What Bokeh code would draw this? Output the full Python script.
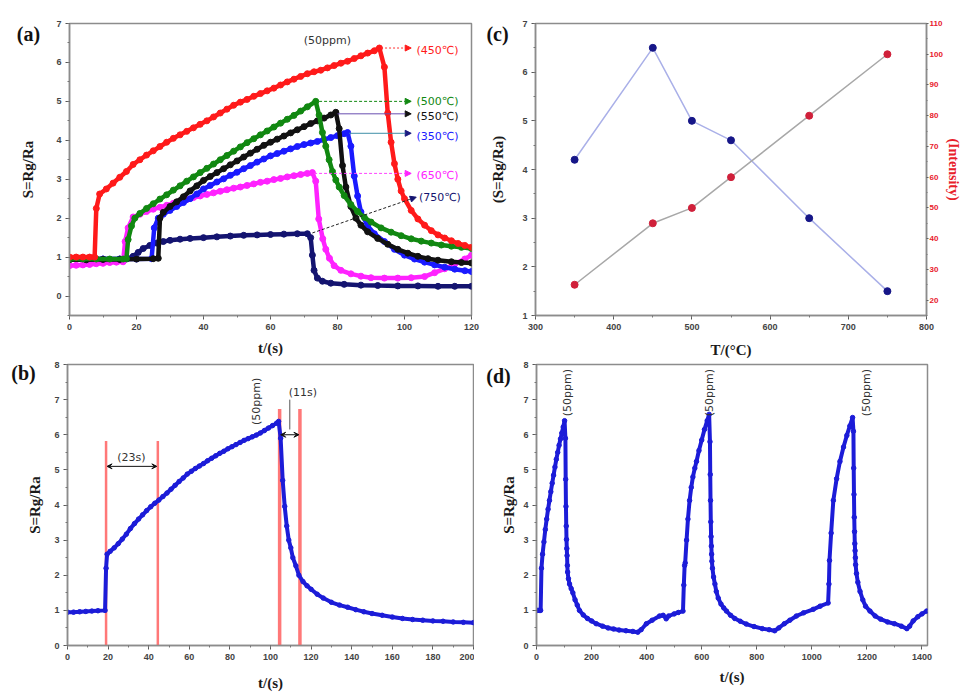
import math
from bokeh.plotting import figure
from bokeh.models import (Range1d, LinearAxis, SingleIntervalTicker, Label, Arrow,
                          NormalHead, VeeHead)
from bokeh.layouts import column, row
from bokeh.embed import file_html
from bokeh.resources import INLINE

# ---------------- data: panel (a) (t, S) pairs ----------------
a_450 = [(0,1.0),(2,1.0),(4,1.0),(6,1.0),(7.5,1.0),(8,2.25),(9,2.62),(11,2.75),(13,2.9),(15,3.05),
         (17,3.2),(19,3.38),(21,3.5),(23,3.62),(25,3.73),(27,3.84),(29,3.95),(31,4.05),(33,4.14),
         (35,4.23),(37,4.32),(39,4.41),(41,4.5),(43,4.6),(45,4.7),(47,4.8),(49,4.9),(51,4.98),
         (53,5.05),(55,5.13),(57,5.2),(59,5.27),(61,5.34),(63,5.42),(65,5.5),(67,5.57),(69,5.64),
         (71,5.71),(73,5.76),(75,5.8),(77,5.86),(79,5.92),(81,5.98),(83,6.03),(85,6.1),(87,6.17),
         (89,6.24),(91,6.3),(92.5,6.37),(94,5.88),(95,4.7),(96,3.95),(97,3.4),(98,3.0),(99,2.7),
         (100,2.5),(102,2.2),(104,1.98),(106,1.82),(108,1.68),(110,1.57),(112,1.49),(114,1.42),
         (116,1.35),(118,1.3),(120,1.25)]
a_500 = [(0,0.95),(4,0.95),(8,0.95),(12,0.95),(16,0.95),(17,0.96),(17.5,1.45),(18.5,1.8),(19.5,2.0),
         (21,2.12),(23,2.25),(25,2.37),(27,2.49),(29,2.6),(31,2.72),(33,2.83),(35,2.95),(37,3.06),
         (39,3.17),(41,3.28),(43,3.39),(45,3.5),(47,3.61),(49,3.72),(51,3.83),(53,3.94),(55,4.04),
         (57,4.14),(59,4.24),(61,4.34),(63,4.44),(65,4.54),(67,4.64),(69,4.75),(71,4.86),(73.5,5.0),
         (74.5,4.65),(75.5,4.2),(76.5,3.85),(77.5,3.5),(78.5,3.2),(79.5,2.98),(80.5,2.8),(82,2.58),
         (84,2.35),(86,2.17),(88,2.02),(90,1.9),(93,1.75),(96,1.64),(99,1.55),(102,1.47),(105,1.41),
         (108,1.36),(111,1.31),(114,1.28),(117,1.25),(120,1.22)]
a_550 = [(0,0.93),(5,0.93),(10,0.94),(15,0.94),(20,0.95),(25,0.96),(26.5,0.97),(27,2.0),(28,2.15),
         (30,2.3),(32,2.42),(34,2.55),(36,2.7),(38,2.83),(40,2.97),(42,3.07),(44,3.17),(46,3.27),
         (48,3.37),(50,3.47),(52,3.57),(54,3.67),(56,3.77),(58,3.87),(60,3.95),(62,4.03),(64,4.11),
         (66,4.19),(68,4.27),(70,4.35),(72,4.43),(74,4.5),(76,4.57),(78,4.65),(79.5,4.72),(80.5,4.3),
         (81.5,3.35),(82.5,2.8),(84,2.3),(85.5,2.0),(87,1.82),(89,1.65),(92,1.48),(95,1.33),(98,1.2),
         (101,1.1),(104,1.02),(107,0.96),(110,0.92),(114,0.88),(117,0.86),(120,0.85)]
a_350 = [(0,0.95),(5,0.95),(10,0.95),(15,0.95),(20,0.95),(24.5,0.96),(25.3,1.75),(26.5,2.0),(28,2.1),
         (30,2.2),(32,2.3),(34,2.4),(36,2.5),(38,2.62),(40,2.75),(42,2.84),(44,2.93),(46,3.01),
         (48,3.1),(50,3.18),(52,3.27),(54,3.35),(56,3.44),(58,3.52),(60,3.6),(62,3.66),(64,3.72),
         (66,3.78),(68,3.84),(70,3.89),(72,3.93),(74,3.97),(76,4.02),(78,4.07),(80,4.12),(82,4.17),
         (83,4.2),(84,3.85),(85,3.08),(86,2.57),(87,2.16),(89,1.8),(91,1.6),(94,1.4),(97,1.2),
         (100,1.05),(103,0.95),(106,0.87),(109,0.8),(112,0.74),(115,0.69),(118,0.65),(120,0.63)]
a_650 = [(0,0.78),(2,0.79),(4,0.8),(6,0.81),(8,0.83),(10,0.84),(12,0.86),(14,0.87),(16,0.88),
         (16.6,1.4),(17.5,1.75),(19,2.03),(21,2.1),(23,2.17),(25,2.23),(27,2.28),(29,2.33),(31,2.38),
         (33,2.43),(35,2.48),(37,2.53),(39,2.57),(41,2.61),(43,2.65),(45,2.69),(47,2.73),(49,2.77),
         (51,2.8),(53,2.84),(55,2.88),(57,2.92),(59,2.95),(61,2.99),(63,3.02),(65,3.06),(67,3.09),
         (69,3.12),(71,3.15),(72.5,3.17),(73.5,2.95),(74.4,1.98),(75.6,1.47),(76.5,1.2),(77.6,0.97),
         (79,0.78),(81,0.66),(84,0.57),(87,0.51),(90,0.47),(94,0.46),(98,0.46),(102,0.47),(106,0.5),
         (109,0.6),(112,0.7),(115,0.82),(118,0.95),(120,1.05)]
a_750 = [(0,0.95),(5,0.95),(10,0.95),(15,0.95),(17,0.95),(19,1.02),(20.5,1.12),(22,1.22),(24,1.3),
         (26,1.36),(28,1.4),(30,1.43),(33,1.46),(36,1.48),(40,1.5),(44,1.52),(48,1.54),(52,1.56),
         (56,1.57),(60,1.58),(64,1.59),(68,1.6),(71,1.6),(72,1.5),(72.5,1.05),(73,0.66),(74,0.46),
         (75.5,0.38),(78,0.33),(82,0.3),(87,0.28),(92,0.27),(98,0.26),(104,0.26),(110,0.25),
         (115,0.25),(120,0.25)]
a_colors = ["#141470", "#ff22ff", "#1a1aff", "#111111", "#118811", "#ff1a1a"]

# ---------------- data: panel (b) ----------------
b_curve = [(0,0.95),(3,0.95),(6,0.96),(9,0.97),(12,0.98),(15,0.99),(18.5,1.0),(19,2.2),(19.5,2.6),
           (21,2.68),(23,2.78),(25,2.9),(27,3.03),(29,3.17),(31,3.33),(33,3.47),(35,3.6),(37,3.72),
           (39,3.84),(41,3.95),(43,4.05),(45,4.14),(47,4.24),(49,4.34),(51,4.45),(53,4.56),(55,4.67),
           (57,4.77),(59,4.88),(61,4.96),(63,5.04),(65,5.11),(67,5.18),(69,5.26),(71,5.33),(73,5.4),
           (75,5.47),(77,5.53),(79,5.6),(81,5.66),(83,5.72),(85,5.78),(87,5.84),(89,5.89),(91,5.94),
           (93,5.99),(95,6.05),(97,6.12),(99,6.19),(101,6.26),(103,6.33),(104,6.38),(105,5.9),
           (106,4.7),(107,3.96),(108,3.4),(109,3.0),(110,2.78),(111,2.5),(112.5,2.27),(114,2.0),
           (116,1.82),(118,1.7),(120,1.6),(123,1.46),(126,1.35),(130,1.23),(134,1.15),(138,1.09),
           (142,1.02),(146,0.96),(150,0.91),(155,0.86),(160,0.81),(165,0.77),(170,0.74),(175,0.72),
           (180,0.7),(185,0.69),(190,0.67),(195,0.66),(200,0.65)]
b_mark_t = [19, 44.5, 104.5, 114.5]
b_mark_top = [5.82, 5.82, 6.73, 6.73]

# ---------------- data: panel (c) ----------------
c_temp = [350, 450, 500, 550, 650, 750]
c_sens = [4.2, 6.5, 5.0, 4.6, 3.0, 1.5]
c_int = [25, 45, 50, 60, 80, 100]

# ---------------- data: panel (d) ----------------
d_curve = [(0,1.0),(5,1.0),(10,1.0),(15,1.0),(18,2.2),(22,2.6),(27,2.95),(32,3.3),(37,3.6),(42,3.88),
           (47,4.13),(52,4.38),(57,4.62),(62,4.85),(67,5.08),(72,5.3),(77,5.5),(82,5.7),(87,5.88),
           (92,6.05),(97,6.22),(102,6.4),(105,5.9),(106,4.73),(107,3.96),(108,3.4),(109,3.02),
           (110,2.76),(111,2.56),(112,2.28),(113,2.09),(116,1.9),(120,1.75),(126,1.62),(132,1.5),
           (140,1.3),(148,1.15),(156,1.0),(170,0.87),(185,0.77),(200,0.7),(217,0.62),(240,0.55),
           (260,0.5),(280,0.47),(300,0.44),(325,0.42),(350,0.4),(368,0.38),(380,0.45),(399,0.62),
           (420,0.72),(447,0.84),(460,0.86),(471,0.76),(480,0.84),(500,0.9),(515,0.94),(532,0.98),
           (535,1.72),(538,2.28),(540,2.35),(545,3.0),(550,3.6),(556,4.13),(562,4.5),(568,4.8),
           (575,5.05),(581,5.24),(590,5.55),(600,5.85),(610,6.15),(620,6.4),(627,6.58),(630,5.8),
           (631,4.87),(632,4.13),(633,3.52),(634,3.1),(635,2.83),(636,2.6),(637,2.4),(639,2.2),
           (643,1.95),(648,1.75),(653,1.54),(660,1.35),(670,1.18),(680,1.07),(690,0.98),(705,0.86),
           (720,0.77),(740,0.69),(762,0.61),(790,0.54),(820,0.48),(845,0.45),(865,0.42),(880,0.5),
           (900,0.62),(920,0.72),(944,0.84),(970,0.93),(1005,1.03),(1030,1.12),(1059,1.21),
           (1062,1.75),(1064,2.42),(1070,3.2),(1078,4.13),(1090,4.75),(1102,5.24),(1115,5.65),
           (1127,5.98),(1138,6.25),(1148,6.49),(1151,6.1),(1152,5.05),(1153,4.3),(1154,3.65),
           (1155,3.24),(1156,2.9),(1157,2.7),(1158,2.5),(1159,2.3),(1162,2.05),(1167,1.8),
           (1175,1.54),(1185,1.3),(1195,1.12),(1211,0.98),(1230,0.84),(1250,0.75),(1275,0.67),
           (1300,0.62),(1325,0.55),(1345,0.48),(1355,0.55),(1368,0.7),(1385,0.82),(1400,0.9),
           (1417,0.98)]
d_peaks_t = [113, 629, 1199]

SERIF = "Liberation Serif"
SANS = "Liberation Sans"


def unzip(pairs):
    return [p[0] for p in pairs], [p[1] for p in pairs]


def make_fig(w, h, xr, yr, left, right, top, bottom):
    p = figure(width=w, height=h, x_range=Range1d(*xr), y_range=Range1d(*yr),
               output_backend="svg", toolbar_location=None,
               min_border_left=left, min_border_right=right,
               min_border_top=top, min_border_bottom=bottom)
    p.grid.visible = False
    p.outline_line_color = "#8c8c8c"
    p.outline_line_width = 1.5
    p.background_fill_color = "white"
    p.border_fill_color = "white"
    return p


def style_axis(ax, label, standoff, color="#1a1a1a", tick_color="#444444"):
    ax.axis_label = label
    ax.axis_label_text_font = SERIF
    ax.axis_label_text_font_style = "bold"
    ax.axis_label_text_font_size = "15px"
    ax.axis_label_text_color = color
    ax.axis_label_standoff = standoff
    ax.major_label_text_font = SANS
    ax.major_label_text_font_size = "9px"
    ax.major_label_text_font_style = "bold"
    ax.major_label_text_color = tick_color
    ax.major_label_standoff = 4
    ax.axis_line_color = "#8c8c8c"
    ax.axis_line_width = 1.5
    ax.major_tick_line_color = "#555555"
    ax.minor_tick_line_color = "#777777"
    ax.major_tick_in = 0
    ax.major_tick_out = 4
    ax.minor_tick_in = 0
    ax.minor_tick_out = 2


def panel_label(p, text, x, y, side):
    # placed in a side panel (screen units) so it is not clipped to the frame
    p.add_layout(Label(x=x, y=y, x_units="screen", y_units="screen", text=text,
                       text_font=SERIF, text_font_style="bold", text_font_size="20px",
                       text_align="center", text_baseline="middle", text_color="#111111"),
                 side)


def note(p, text, x, y, color="#333333", angle=0.0, align="left", size="11px"):
    p.add_layout(Label(x=x, y=y, text=text, text_font="DejaVu Sans", text_font_size=size,
                       text_color=color, angle=angle, text_align=align,
                       text_baseline="middle"))


# ---------------- panel (a) ----------------
pa = make_fig(480, 360, (0, 120), (-0.5, 7), 69, 9, 23, 41)
pa.xaxis.ticker = SingleIntervalTicker(interval=20, num_minor_ticks=2)
pa.yaxis.ticker = SingleIntervalTicker(interval=1, num_minor_ticks=2)
style_axis(pa.xaxis[0], "t/(s)", 7)
style_axis(pa.yaxis[0], "S=Rg/Ra", 17)
for series, col in zip([a_750, a_650, a_350, a_550, a_500, a_450], a_colors):
    t, s = unzip(series)
    pa.line(t, s, line_color=col, line_width=4.5)
    pa.scatter(t, s, marker="circle", size=6, fill_color=col, line_color=col)

arrow_specs = [  # (x_start, y_start, x_end, y_end, line colour, head colour, dash)
    (93, 6.37, 102, 6.37, "#ff3030", "#ff1a1a", "2 2"),
    (74.5, 5.0, 102, 5.0, "#118811", "#118811", "3 2"),
    (80, 4.68, 102, 4.68, "#6a4fb0", "#111111", "solid"),
    (83.5, 4.18, 102, 4.18, "#3f8fa8", "#1a1a80", "solid"),
    (73, 3.15, 102, 3.15, "#ff44ff", "#ff22ff", "3 2"),
    (72.5, 1.62, 103.5, 2.54, "#222222", "#141470", "3 2"),
]
for xs, ys, xe, ye, lc, hc, dash in arrow_specs:
    pa.add_layout(Arrow(end=NormalHead(size=6, fill_color=hc, line_color=hc),
                        x_start=xs, y_start=ys, x_end=xe, y_end=ye,
                        line_color=lc, line_width=1, line_dash=dash))
label_y = [6.3, 5.0, 4.6, 4.1, 3.1, 2.54]
label_txt = ["(450℃)", "(500℃)", "(550℃)", "(350℃)", "(650℃)", "(750℃)"]
label_col = ["#ff1a1a", "#118811", "#111111", "#1a1aff", "#ff22ff", "#141470"]
for txt, yy, col in zip(label_txt, label_y, label_col):
    note(pa, txt, 104.3 if txt == "(750℃)" else 103.6, yy, color=col, size="11px")
note(pa, "(50ppm)", 77, 6.56, color="#333333", align="center")
panel_label(pa, "(a)", -41, -10, "above")

# ---------------- panel (c) ----------------
pc = make_fig(483, 360, (300, 800), (1, 7), 55, 30, 21, 43)
pc.extra_y_ranges = {"int": Range1d(15, 110)}
pc.xaxis.ticker = SingleIntervalTicker(interval=100, num_minor_ticks=2)
pc.yaxis.ticker = SingleIntervalTicker(interval=1, num_minor_ticks=2)
style_axis(pc.xaxis[0], "T/(°C)", 9)
style_axis(pc.yaxis[0], "(S=Rg/Ra)", 13)
rax = LinearAxis(y_range_name="int", ticker=SingleIntervalTicker(interval=10, num_minor_ticks=2))
style_axis(rax, "(Intensity)", 0, color="#e8202a", tick_color="#e8202a")
rax.axis_label_text_font_size = "14px"
rax.major_label_text_font_size = "8px"
rax.major_tick_out = 2
rax.minor_tick_out = 1
rax.major_label_standoff = 1
pc.add_layout(rax, "right")
pc.line(c_temp, c_sens, line_color="#aab0e8", line_width=1.5)
pc.line(c_temp, c_int, line_color="#a8a8a8", line_width=1.5, y_range_name="int")
pc.scatter(c_temp, c_sens, marker="circle", size=7, fill_color="#161688", line_color="#161688")
pc.scatter(c_temp, c_int, marker="circle", size=7, fill_color="#d0203a", line_color="#d0203a",
           y_range_name="int")
panel_label(pc, "(c)", -38, -10, "above")

# ---------------- panel (b) ----------------
pb = make_fig(474, 333, (0, 200), (0, 8), 40, 1, 4, 44)
pb.xaxis.ticker = SingleIntervalTicker(interval=20, num_minor_ticks=2)
pb.yaxis.ticker = SingleIntervalTicker(interval=1, num_minor_ticks=2)
style_axis(pb.xaxis[0], "t/(s)", 12)
style_axis(pb.yaxis[0], "S=Rg/Ra", 8)
pb.segment(x0=b_mark_t, y0=[0] * len(b_mark_t), x1=b_mark_t, y1=b_mark_top,
           line_color="#ff6060", line_width=[2.5, 2.5, 3.5, 3.5], line_alpha=0.85)
tb, sb = unzip(b_curve)
pb.line(tb, sb, line_color="#1c1cd8", line_width=4)
pb.scatter(tb, sb, marker="circle", size=4.5, fill_color="#1c1cd8", line_color="#1c1cd8")
pb.add_layout(Arrow(start=VeeHead(size=5, line_color="#111111"), end=VeeHead(size=5, line_color="#111111"),
                    x_start=19.5, y_start=5.1, x_end=44, y_end=5.1,
                    line_color="#111111", line_width=1))
pb.add_layout(Arrow(start=VeeHead(size=5, line_color="#111111"), end=VeeHead(size=5, line_color="#111111"),
                    x_start=105, y_start=6.0, x_end=114, y_end=6.0,
                    line_color="#111111", line_width=1))
pb.segment(x0=[109.5], y0=[6.15], x1=[109.5], y1=[7.0], line_color="#555555", line_width=1)
note(pb, "(23s)", 31.5, 5.36, align="center")
note(pb, "(11s)", 116, 7.2, align="center")
note(pb, "(50ppm)", 93, 6.95, angle=math.pi / 2, align="center")
panel_label(pb, "(b)", 23, 273, "left")

# ---------------- panel (d) ----------------
pd_ = make_fig(489, 333, (0, 1420), (0, 8), 30, 36, 4, 41)
pd_.xaxis.ticker = SingleIntervalTicker(interval=200, num_minor_ticks=2)
pd_.yaxis.ticker = SingleIntervalTicker(interval=1, num_minor_ticks=2)
style_axis(pd_.xaxis[0], "t/(s)", 6)
style_axis(pd_.yaxis[0], "S=Rg/Ra", 3)
td, sd = unzip(d_curve)
pd_.line(td, sd, line_color="#1c1cd8", line_width=4)
pd_.scatter(td, sd, marker="circle", size=4.5, fill_color="#1c1cd8", line_color="#1c1cd8")
for tp in d_peaks_t:
    note(pd_, "(50ppm)", tp, 7.2, angle=math.pi / 2, align="center")
panel_label(pd_, "(d)", 24, 270, "left")

layout = column(row(pa, pc), row(pb, pd_))
open("out.html", "w").write(file_html(layout, INLINE))
